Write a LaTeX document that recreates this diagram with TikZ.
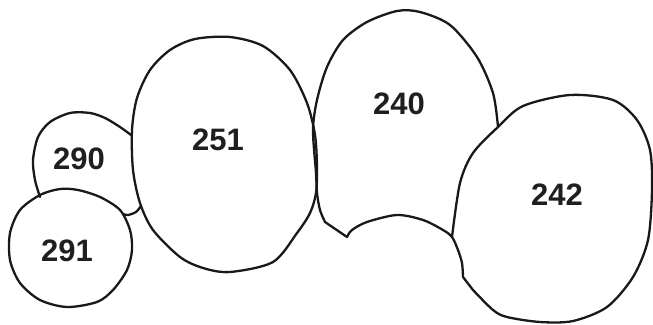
\documentclass[tikz,border=0pt]{standalone}
\usepackage{fontspec}
\newfontfamily\labfont{Liberation Sans}
\tikzset{
  outline/.style={line width=2.3pt, line join=round, line cap=round, black!90},
  lab/.style={font=\labfont\bfseries\fontsize{31}{35}\selectfont, text=black!88, inner sep=0pt}
}
\begin{document}
\begin{tikzpicture}[x=1pt,y=-1pt]
\useasboundingbox (0,0) rectangle (653,324);
% 290 (behind)
\draw[outline] plot[smooth] coordinates {(131,135) (120,127) (105,118) (90,113) (70,113) (50,122) (38,137) (33,160) (35,180) (40,197)};
\draw[outline] plot[smooth] coordinates {(141,206) (136,212) (128,215) (123,214)};
% 291
\draw[outline] plot[smooth cycle] coordinates {(78,190) (100,197) (120,210) (130,230) (132,250) (127,270) (113,290) (97,302) (67,307) (40,300) (20,283) (10,260) (10,233) (20,210) (40,195) (60,189)};
% 251
\draw[outline] plot[smooth cycle] coordinates {(230,37) (263,46) (290,70) (307,103) (315,135) (317,167) (316,193) (310,213) (297,233) (273,262) (230,272) (203,268) (180,257) (153,230) (140,203) (133,170) (132,130) (137,98) (150,70) (170,50) (195,39)};
% 240
\draw[outline] (347,237) -- plot[smooth] coordinates {(325,222) (320,210) (317,193) (316,173) (313,130) (317,100) (327,67) (343,40) (367,22) (397,11) (420,12) (450,25) (477,57) (493,93) (498,127)};
% bump and 242
\draw[outline] plot[smooth] coordinates {(347,237) (352,230) (367,222) (397,215) (423,220) (443,230) (452,237) (458,250) (462,263) (463,277)}
  -- plot[smooth] coordinates {(473,290) (493,310) (507,317) (540,322) (573,321) (607,307) (633,277) (648,240) (652,190) (650,150) (637,120) (613,100) (570,95) (523,106) (498,127) (473,153) (460,183) (452,237)};
% labels
\node[lab] (l290) at (79,159) {290};
\node[lab] (l291) at (67,251) {291};
\node[lab] (l251) at (218,140) {251};
\node[lab] (l240) at (399,104) {240};
\node[lab] (l242) at (557,195) {242};
\end{tikzpicture}
\end{document}
